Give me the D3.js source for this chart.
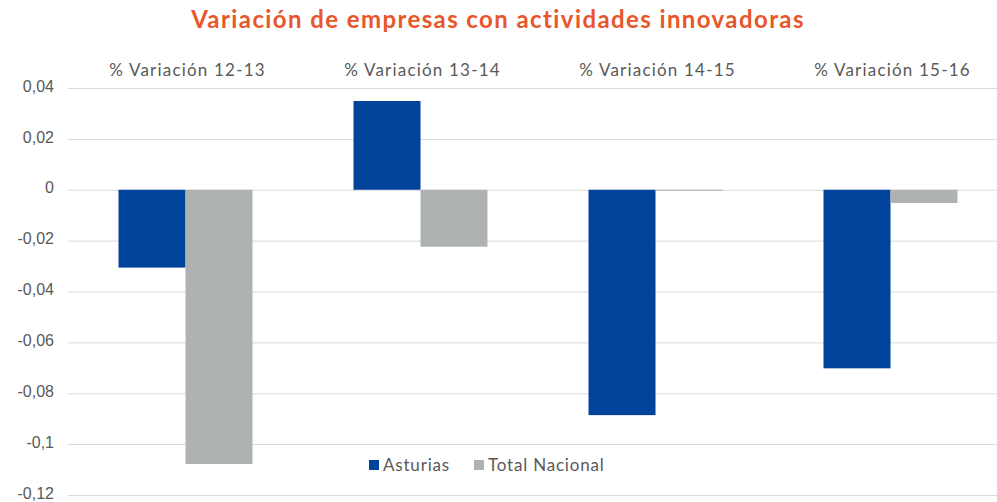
<!DOCTYPE html>
<html>
	<head>
		<meta charset="utf-8">
		<title>Variación de empresas con actividades innovadoras</title>
		<style>
		body { margin: 0; background: #fff; }
		svg { display: block; }
		.grid line { stroke: #d9d9d9; stroke-width: 1px; }
		.grid path { display: none; }
		.left.axis path, .left.axis line { display: none; }
		.left.axis text { font-family: "Liberation Sans", Arial, sans-serif; font-size: 16px; fill: #595959; }
		.cat { font-family: Lato, "Open Sans", sans-serif; font-size: 17px; letter-spacing: 1.2px; fill: #595959; }
		.legend text { font-family: Lato, "Open Sans", sans-serif; font-size: 17px; letter-spacing: 0.8px; fill: #595959; }
		.title { font-family: Lato, "Open Sans", sans-serif; font-size: 24px; font-weight: bold; letter-spacing: 1.4px; fill: #e8562a; }
		</style>
		<script src="https://d3js.org/d3.v7.min.js"></script>
	</head>
	<body>
		<svg id="chart" width="997" height="502"></svg>

		<script>
		var categories = ['% Variación 12-13', '% Variación 13-14', '% Variación 14-15', '% Variación 15-16'];
		var seriesNames = ['Asturias', 'Total Nacional'];
		var asturias = [-0.0306, 0.0349, -0.0886, -0.0702];
		var totalNacional = [-0.1078, -0.0224, -0.0004, -0.0052];
		var yTicks = [0.04, 0.02, 0, -0.02, -0.04, -0.06, -0.08, -0.1, -0.12];
		var colors = ['#00439a', '#afb2b3'];

		function drawChart () {
			var	svg	= d3.select('#chart'),
				margin	= { top: 88, left: 68 },
				plotW	= 940,
				plotH	= 407;

			var series = [asturias, totalNacional];

			var xScale = d3.scaleBand().domain(categories).range([margin.left, margin.left + plotW]).paddingInner(0).paddingOuter(0),
				xInner = d3.scaleBand().domain(seriesNames).range([0, xScale.bandwidth()]).paddingInner(0).paddingOuter(0.754),
				yScale = d3.scaleLinear().domain([0.04, -0.12]).range([margin.top, margin.top + plotH]);

			var fmt = function (d) { return String(+d.toFixed(2)).replace('.', ','); };

			svg.append('text')
				.attr('class', 'title')
				.attr('x', 498)
				.attr('y', 28)
				.attr('text-anchor', 'middle')
				.text('Variación de empresas con actividades innovadoras');

			svg.append('g')
				.attr('class', 'grid')
				.attr('transform', 'translate(' + margin.left + ',0)')
				.call(d3.axisLeft(yScale).tickValues(yTicks).tickSize(-(997 - margin.left)).tickFormat(''));

			svg.append('g')
				.attr('class', 'left axis')
				.attr('transform', 'translate(' + (margin.left - 14) + ',-2)')
				.call(d3.axisLeft(yScale).tickValues(yTicks).tickSize(0).tickPadding(0).tickFormat(fmt));

			svg.selectAll('text.cat')
				.data(categories)
				.enter()
				.append('text')
				.attr('class', 'cat')
				.attr('x', function (d) { return xScale(d) + xScale.bandwidth() / 2 + 2; })
				.attr('y', 76)
				.attr('text-anchor', 'middle')
				.text(function (d) { return d; });

			var groups = svg.selectAll('g.group')
				.data(categories)
				.enter()
				.append('g')
				.attr('class', 'group')
				.attr('transform', function (d) { return 'translate(' + xScale(d) + ',0)'; });

			groups.selectAll('rect')
				.data(function (d, i) { return series.map(function (s, j) { return { name: seriesNames[j], value: s[i], color: colors[j] }; }); })
				.enter()
				.append('rect')
				.attr('x', function (d) { return xInner(d.name); })
				.attr('width', xInner.bandwidth())
				.attr('y', function (d) { return yScale(Math.max(0, d.value)); })
				.attr('height', function (d) { return Math.max(1, Math.abs(yScale(d.value) - yScale(0))); })
				.attr('fill', function (d) { return d.color; });

			var legendX = [369, 474];
			var legend = svg.append('g').attr('class', 'legend');
			var items = legend.selectAll('g')
				.data(seriesNames)
				.enter()
				.append('g')
				.attr('transform', function (d, i) { return 'translate(' + legendX[i] + ',460)'; });

			items.append('rect')
				.attr('width', 10)
				.attr('height', 10)
				.attr('fill', function (d, i) { return colors[i]; });

			items.append('text')
				.attr('x', 14)
				.attr('y', 11)
				.text(function (d) { return d; });
		}

		drawChart();
		</script>
	</body>
</html>
